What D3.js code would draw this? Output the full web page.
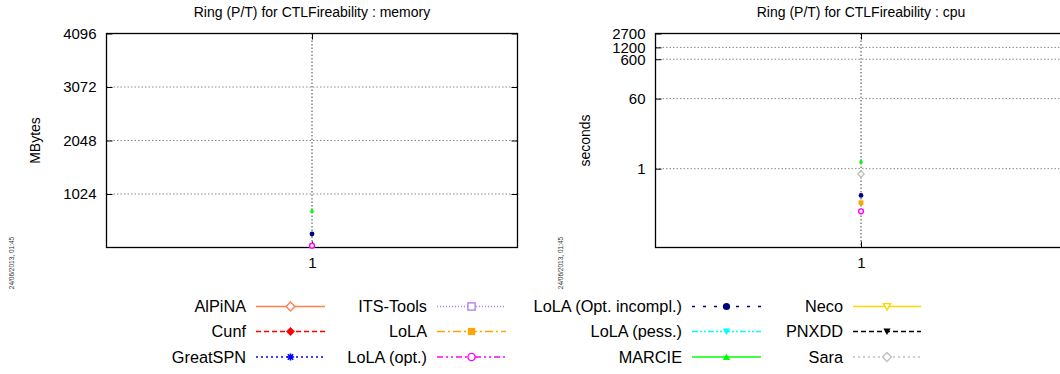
<!DOCTYPE html>
<html><head><meta charset="utf-8">
<script src="https://cdn.jsdelivr.net/npm/d3@7"></script>
<style>
body{margin:0;background:#fff;}
svg{display:block;font-family:"Liberation Sans",Arial,Helvetica,sans-serif;}
</style></head>
<body><svg id="c" width="1060" height="374"></svg>
<script>
const categories = ["1"];
const tools = ["AlPiNA","Cunf","GreatSPN","ITS-Tools","LoLA","LoLA (opt.)","LoLA (Opt. incompl.)","LoLA (pess.)","MARCIE","Neco","PNXDD","Sara"];
const colors = ["#ff7f50","#ff0000","#0000ff","#b57ff5","#ffa500","#ff00ff","#000080","#00ffff","#00ff00","#ffd700","#000000","#c0c0c0"];
const markers = ["diamondOpen","diamond","star","squareOpen","square","circleOpen","circle","triDown","tri","triDownOpen","triDown","diamondOpen"];
const dashes = ["", "5,3", "2,3", "1,2", "8,3,2,3", "6,3,2,3,2,3", "3,8", "6,2,2,2,2,2", "", "", "5,3", "2,3"];
// memory (MBytes) per tool at category "1" (null = no value)
const memoryValues = [null,null,null,null,34,34,258,null,708,null,null,null];
// cpu (seconds) per tool at category "1"
const cpuValues = [null,null,null,null,0.137,0.083,0.21,null,1.53,null,null,0.73];
const memTicks = [1024,2048,3072,4096];
const cpuTicks = [1,60,600,1200,2700];
const titles = ["Ring (P/T) for CTLFireability : memory","Ring (P/T) for CTLFireability : cpu"];
const yLabels = ["MBytes","seconds"];
const stamp = "24/06/2013, 01:45";

const svg = d3.select("#c");
const plotTop = 33.5, plotBottom = 247.5;

function marker(g, type, x, y, color, s) {
  s = s || 3;
  const open = type.endsWith("Open");
  const base = type.replace("Open","");
  let el;
  if (base === "circle") el = g.append("circle").attr("cx",x).attr("cy",y).attr("r",s);
  else if (base === "square") el = g.append("rect").attr("x",x-s).attr("y",y-s).attr("width",2*s).attr("height",2*s);
  else if (base === "diamond") el = g.append("path").attr("d",`M${x},${y-s-0.8}L${x+s+0.8},${y}L${x},${y+s+0.8}L${x-s-0.8},${y}Z`);
  else if (base === "tri") el = g.append("path").attr("d",`M${x},${y-s}L${x+s},${y+s*0.8}L${x-s},${y+s*0.8}Z`);
  else if (base === "triDown") el = g.append("path").attr("d",`M${x},${y+s}L${x+s},${y-s*0.8}L${x-s},${y-s*0.8}Z`);
  else if (base === "star") {
    g.append("path").attr("d",`M${x-s},${y}H${x+s}M${x},${y-s}V${y+s}M${x-s*0.75},${y-s*0.75}L${x+s*0.75},${y+s*0.75}M${x-s*0.75},${y+s*0.75}L${x+s*0.75},${y-s*0.75}`)
      .attr("stroke",color).attr("stroke-width",1.6).attr("fill","none");
    return;
  }
  if (open) el.attr("fill","#fff").attr("stroke",color).attr("stroke-width",1.4);
  else el.attr("fill",color).attr("stroke","none");
}

function panel(left, right, yScale, ticks, tickFmt, values, title, ylab, ylabX, stampX) {
  const g = svg.append("g");
  const x = d3.scalePoint().domain(categories).range([left,right]).padding(0.5);
  ticks.forEach(t => {
    const y = yScale(t);
    if (y > plotTop + 0.5) g.append("line").attr("x1",left).attr("x2",right).attr("y1",y).attr("y2",y)
      .attr("stroke","#888").attr("stroke-width",1).attr("stroke-dasharray","1.5,2");
  });
  categories.forEach(c => {
    g.append("line").attr("x1",x(c)).attr("x2",x(c)).attr("y1",plotTop).attr("y2",plotBottom)
      .attr("stroke","#444").attr("stroke-width",1).attr("stroke-dasharray","1.5,2");
  });
  const yAx = d3.axisLeft(yScale).tickValues(ticks).tickFormat(tickFmt).tickSizeInner(-6).tickSizeOuter(0).tickPadding(10);
  const ya = g.append("g").attr("transform",`translate(${left},0)`).call(yAx);
  ya.select(".domain").remove();
  ya.selectAll("text").attr("font-size",15).attr("fill","#000").style("font-family","Liberation Sans, Arial, sans-serif");
  ya.selectAll("line").attr("stroke","#000");
  const yAxR = d3.axisRight(yScale).tickValues(ticks).tickFormat("").tickSizeInner(-6).tickSizeOuter(0);
  const yr = g.append("g").attr("transform",`translate(${right},0)`).call(yAxR);
  yr.select(".domain").remove();
  yr.selectAll("line").attr("stroke","#000");
  const xAx = d3.axisBottom(x).tickSizeInner(-6).tickSizeOuter(0).tickPadding(10);
  const xa = g.append("g").attr("transform",`translate(0,${plotBottom})`).call(xAx);
  xa.select(".domain").remove();
  xa.selectAll("text").attr("font-size",15).attr("fill","#000").style("font-family","Liberation Sans, Arial, sans-serif");
  xa.selectAll("line").attr("stroke","#000");
  const xAxT = d3.axisTop(x).tickFormat("").tickSizeInner(-6).tickSizeOuter(0);
  const xt = g.append("g").attr("transform",`translate(0,${plotTop})`).call(xAxT);
  xt.select(".domain").remove();
  xt.selectAll("line").attr("stroke","#000");
  g.append("rect").attr("x",left).attr("y",plotTop).attr("width",right-left).attr("height",plotBottom-plotTop)
    .attr("fill","none").attr("stroke","#000").attr("stroke-width",1.3);
  values.forEach((v,i) => {
    if (v == null) return;
    marker(g, markers[i], x(categories[0]), yScale(v), colors[i], 2.4);
  });
  g.append("text").attr("x",(left+right)/2).attr("y",17).attr("text-anchor","middle").attr("font-size",14).text(title);
  g.append("text").attr("transform",`translate(${ylabX},${(plotTop+plotBottom)/2}) rotate(-90)`).attr("text-anchor","middle")
    .attr("font-size",14).text(ylab);
  g.append("text").attr("transform",`translate(${stampX},263) rotate(-90)`).attr("text-anchor","middle")
    .attr("font-size",6.5).attr("fill","#333").text(stamp);
}

const yMem = d3.scaleLinear().domain([0,4096]).range([plotBottom,plotTop]);
panel(106.5, 517.5, yMem, memTicks, d3.format("d"), memoryValues, titles[0], yLabels[0], 40, 14);
const yCpu = d3.scaleLog().domain([0.01,2700]).range([plotBottom,plotTop]);
panel(655.5, 1066.5, yCpu, cpuTicks, d3.format("d"), cpuValues, titles[1], yLabels[1], 590, 563);

const colLabelX = [246, 427, 682, 843];
const colLineX = [[256,325],[437,506],[692,761],[853,921]];
const rowY = [306.5, 331.5, 357];
tools.forEach((t,i) => {
  const c = Math.floor(i/3), r = i%3;
  const y = rowY[r];
  const lg = svg.append("g");
  lg.append("text").attr("x",colLabelX[c]).attr("y",y+5.5).attr("text-anchor","end").attr("font-size",16.3).text(t);
  const [x1,x2] = colLineX[c];
  lg.append("line").attr("x1",x1).attr("x2",x2).attr("y1",y).attr("y2",y)
    .attr("stroke",colors[i]).attr("stroke-width",1.5).attr("stroke-dasharray",dashes[i] || null);
  marker(lg, markers[i], (x1+x2)/2, y, colors[i], 3.6);
});
</script></body></html>
